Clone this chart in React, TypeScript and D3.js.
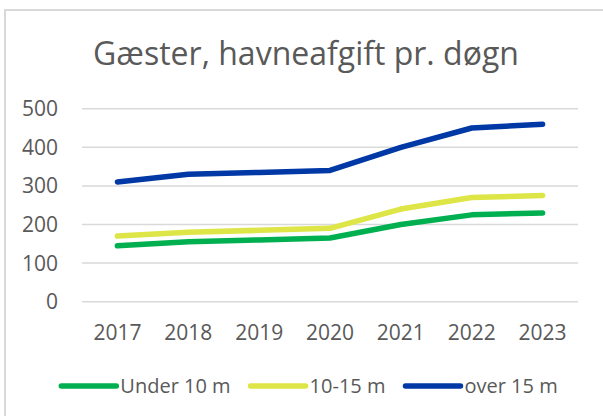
import { useRef, useEffect } from 'react';
import * as d3 from 'd3';

const years = ['2017', '2018', '2019', '2020', '2021', '2022', '2023'];
const under10 = [145, 155, 160, 165, 200, 225, 230];
const mid10to15 = [170, 180, 185, 190, 240, 270, 275];
const over15 = [310, 330, 335, 340, 400, 450, 460];
const yTicks = [0, 100, 200, 300, 400, 500];
const seriesNames = ['Under 10 m', '10-15 m', 'over 15 m'];
const seriesColors = ['#00B050', '#DEE546', '#0039A6'];

const App = () => {
    const svgRef = useRef<SVGSVGElement | null>(null);
    const w = 603;
    const h = 416;
    const font = '"Open Sans", "Liberation Sans", sans-serif';
    const textColor = '#595959';

    useEffect(() => {
        document.body.style.margin = '0';
        if (!svgRef.current) return;
        const svg = d3.select(svgRef.current);
        svg.selectAll('*').remove();

        svg.append('rect')
            .attr('x', 5).attr('y', 10)
            .attr('width', w + 10).attr('height', h + 10)
            .attr('fill', 'white')
            .attr('stroke', '#d9d9d9')
            .attr('stroke-width', 2);

        // title
        svg.append('text')
            .attr('x', 306).attr('y', 65)
            .attr('text-anchor', 'middle')
            .style('font-family', font)
            .style('font-size', '32px')
            .attr('fill', textColor)
            .text('Gæster, havneafgift pr. døgn');

        const x = d3.scalePoint<string>().domain(years).range([82, 578]).padding(0.5);
        const y = d3.scaleLinear().domain([0, 500]).range([301.7, 108.7]);

        // gridlines + y labels
        const grid = svg.append('g');
        yTicks.forEach(t => {
            grid.append('line')
                .attr('x1', 82).attr('x2', 578)
                .attr('y1', y(t)).attr('y2', y(t))
                .attr('stroke', '#d9d9d9')
                .attr('stroke-width', 1.5);
            grid.append('text')
                .attr('x', 58).attr('y', y(t))
                .attr('dy', '0.36em')
                .attr('text-anchor', 'end')
                .style('font-family', font)
                .style('font-size', '21px')
                .attr('fill', textColor)
                .text(t);
        });

        // x labels
        years.forEach(yr => {
            svg.append('text')
                .attr('x', x(yr)!).attr('y', 340)
                .attr('text-anchor', 'middle')
                .style('font-family', font)
                .style('font-size', '21px')
                .attr('fill', textColor)
                .text(yr);
        });

        // lines
        const allSeries = [under10, mid10to15, over15];
        const line = d3.line<number>()
            .x((_d, i) => x(years[i])!)
            .y(d => y(d));
        allSeries.forEach((s, i) => {
            svg.append('path')
                .datum(s)
                .attr('fill', 'none')
                .attr('stroke', seriesColors[i])
                .attr('stroke-width', 5.5)
                .attr('stroke-linecap', 'round')
                .attr('stroke-linejoin', 'round')
                .attr('d', line);
        });

        // legend
        const legend = svg.append('g');
        const lineLen = 55;
        const gapText = 4;
        const gapItem = 20;
        let cx = 0;
        seriesNames.forEach((name, i) => {
            const g = legend.append('g');
            g.append('line')
                .attr('x1', 0).attr('x2', lineLen)
                .attr('y1', 386).attr('y2', 386)
                .attr('stroke', seriesColors[i])
                .attr('stroke-width', 5.5)
                .attr('stroke-linecap', 'round');
            const t = g.append('text')
                .attr('x', lineLen + gapText).attr('y', 386)
                .attr('dy', '0.36em')
                .style('font-family', font)
                .style('font-size', '20px')
                .attr('fill', textColor)
                .text(name);
            const tw = (t.node() as SVGTextElement).getComputedTextLength();
            g.attr('transform', `translate(${cx},0)`);
            cx += lineLen + gapText + tw + gapItem;
        });
        const total = cx - gapItem;
        legend.attr('transform', `translate(${309.5 - total / 2},0)`);
    }, []);

    return <svg ref={svgRef} width={w} height={h} style={{ display: 'block' }}></svg>;
};

export default App;
